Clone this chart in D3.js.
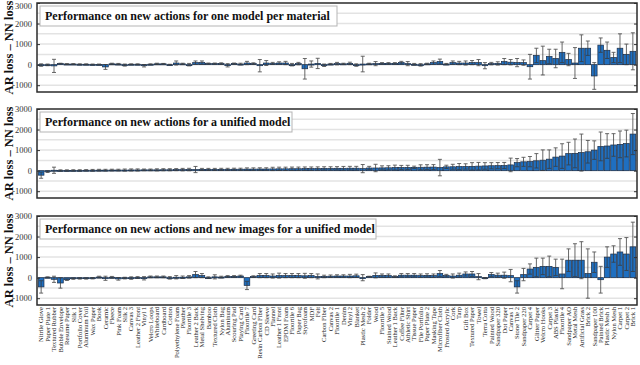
<!DOCTYPE html>
<html>
<head>
<meta charset="utf-8">
<script src="https://cdn.jsdelivr.net/npm/d3@7"></script>
<style>
  body { margin: 0; background: #fff; }
  svg { display: block; }
</style>
</head>
<body>
<div id="chart"></div>
<script>
//Material names, in the order used on the x axis
var categories = ["Nitrile Glove","Paper Plate 1","Textured Rubber","Bubble Envelope","Resume Paper","Silk 1",
  "Portfolio Cover","Aluminum Foil","Wax Paper","Book","Ceramic","Fleece","Pink Foam","Silk 2","Canvas 3",
  "Leather 2 Front","Vinyl 1","Velcro Loops","Whiteboard","Cardboard","Cotton","Polyethylene Foam","Pleather",
  "Floortile 3","Leather 2 Back","Metal Shelving","Bamboo","Textured Cloth","Nylon Bag","Aluminum","Scouring Pad",
  "Playing Card","Floortile 7","Greeting Card","Resin Carbon Fiber","CD Sleeve","Flannel","Leather 1 Front",
  "EPDM Foam","Floortile 6","Paper Bag","Styrofoam","MDF","Felt","Carbon Fiber","Canvas 2","Floortile 1","Denim",
  "Vinyl 2","Blanket","Plastic Mesh 2","Folder","Wood","Floortile 5","Stained Wood","Leather 1 Back",
  "Coffee Filter","Athletic Shirt","Tissue Paper","File Portfolio","Paper Plate 2","Masking Tape",
  "Microfiber Cloth","Frosted Acrylic","Cork","Tarp","Gift Box","Textured Paper","Towel","Terra Cotta",
  "Painted Wood","Sandpaper 320","Dot Paper","Canvas 1","Stone Tile 2","Sandpaper 220","Carpet 4",
  "Glitter Paper","Velcro Hooks","Carpet 3","ABS Plastic","Floortile 4","Sandpaper AO","Metal Mesh",
  "Artificial Grass","Brick 2","Sandpaper 100","Painted Brick","Plastic Mesh 1","Nylon Mesh","Carpet 1",
  "Carpet 2","Brick 1"]

//Mean of AR loss - NN loss and its spread, one pair of arrays per panel
var oneModelVal = [-20,-10,-60,50,30,30,20,20,10,10,-110,40,30,-20,20,20,-50,20,40,40,0,80,40,0,100,100,50,50,50,-30,
  50,30,80,50,-50,80,60,80,80,0,50,-200,30,60,-30,30,50,40,60,-20,30,40,50,60,60,60,100,50,20,-10,
  40,100,150,30,100,80,80,100,100,-50,50,60,150,120,100,100,-100,450,200,400,300,600,250,80,800,800,
  -550,950,700,350,800,500,650]
var oneModelErr = [60,40,320,20,20,20,20,20,20,20,120,30,30,50,20,20,60,20,30,20,20,100,30,60,80,80,30,30,40,80,
  30,40,80,40,300,120,50,60,80,60,60,500,150,250,60,30,60,30,60,60,380,30,100,40,40,40,60,100,40,60,
  30,80,120,30,80,80,100,100,150,150,60,80,150,130,200,130,600,350,700,350,450,500,300,750,650,350,
  650,350,400,250,700,500,900]

var unifiedVal = [-220,-50,20,10,10,15,15,20,20,25,25,30,30,30,35,35,40,40,40,45,45,50,50,55,55,60,60,60,65,65,
  70,70,75,75,80,80,85,90,90,95,95,100,100,105,110,110,115,115,120,120,100,130,130,135,140,150,155,160,160,165,
  170,175,150,185,190,200,205,210,220,230,240,245,250,280,390,430,440,480,510,560,660,710,830,840,880,920,
  1000,1180,1200,1250,1280,1320,1780]
var unifiedErr = [150,40,150,30,30,30,30,30,40,40,40,40,40,50,50,50,40,40,50,50,50,50,60,60,150,50,50,50,50,50,
  50,50,60,60,60,60,80,80,80,80,80,80,80,80,80,80,80,90,90,90,200,80,180,100,100,120,100,100,60,120,
  120,120,400,80,120,150,130,180,180,160,150,150,150,330,200,220,250,350,500,450,450,600,550,700,900,550,
  450,700,600,550,650,650,1000]

var newImagesVal = [-450,20,-80,-260,-100,-50,-40,-40,-30,30,-30,20,-60,-20,-20,10,-30,40,40,40,-10,20,20,40,150,100,0,40,30,60,
  60,80,-380,50,100,100,80,100,100,100,100,90,100,60,60,70,80,80,80,90,0,50,110,100,100,50,120,120,120,100,
  110,100,200,100,80,120,180,180,50,-20,150,120,120,100,-450,150,420,500,550,550,500,180,850,850,850,200,
  750,-100,1000,1150,1250,1150,1500]
var newImagesErr = [300,20,150,250,40,30,30,30,30,40,100,40,60,40,60,40,80,40,40,40,60,80,60,60,150,100,40,100,40,40,
  40,40,200,40,100,100,100,120,100,100,100,120,100,120,60,60,60,60,80,80,150,20,120,80,80,40,80,80,80,80,
  80,80,150,60,100,100,100,120,150,30,100,100,150,300,300,300,250,450,400,500,400,720,550,800,900,1200,
  500,650,500,400,650,800,1200]

var panelTitles = ["Performance on new actions for one model per material",
  "Performance on new actions for a unified model",
  "Performance on new actions and new images for a unified model"]
var yTicks = [-1000, 0, 1000, 2000, 3000]
var gridValues = [-1000, -500, 0, 500, 1000, 1500, 2000, 2500]

var width = 640
var height = 365
var panelTops = [3, 109, 216]
var panelHeight = 89
var plotLeft = 37
var plotRight = 637
var titleBoxWidths = [297, 252, 336]
var serif = "'Liberation Serif', 'Times New Roman', serif"

var svg = d3.select("#chart")
  .append("svg")
  .attr("width", width)
  .attr("height", height)
  .attr("font-family", serif)

//One band per material, shared by the three panels
var xScale = d3.scaleBand()
  .domain(categories)
  .range([plotLeft + 1, plotRight - 1])
  .paddingInner(0.12)
  .paddingOuter(0.05)

var panels = [
  {values: oneModelVal, errors: oneModelErr},
  {values: unifiedVal, errors: unifiedErr},
  {values: newImagesVal, errors: newImagesErr}
]

panels.forEach(function(p, k) {
  var top = panelTops[k]
  var yScale = d3.scaleLinear()
    .domain([-1330, 3000])
    .range([top + panelHeight, top])

  var data = categories.map(function(c, i) {
    return {name: c, val: p.values[i], err: p.errors[i]}
  })

  var g = svg.append("g").attr("class", "panel" + k)

  //Grid lines, every 500
  g.selectAll(".grid")
    .data(gridValues)
    .enter()
    .append("line")
    .attr("x1", plotLeft)
    .attr("x2", plotRight)
    .attr("y1", function(d) { return yScale(d) })
    .attr("y2", function(d) { return yScale(d) })
    .attr("stroke", "#e3e3e3")
    .attr("stroke-width", 1.5)

  //Bars from zero to the mean
  g.selectAll(".bar")
    .data(data)
    .enter()
    .append("rect")
    .attr("x", function(d) { return xScale(d.name) })
    .attr("width", xScale.bandwidth())
    .attr("y", function(d) { return yScale(Math.max(0, d.val)) })
    .attr("height", function(d) { return Math.max(1, Math.abs(yScale(d.val) - yScale(0))) })
    .attr("fill", "#1f6fc0")
    .attr("stroke", "#1b2d47")
    .attr("stroke-width", 0.7)

  //Error bars with small caps
  var err = g.selectAll(".err")
    .data(data)
    .enter()
    .append("g")
    .attr("stroke", "#3a3a3a")
    .attr("stroke-width", 0.9)
    .attr("opacity", 0.85)

  err.append("line")
    .attr("x1", function(d) { return xScale(d.name) + xScale.bandwidth() / 2 })
    .attr("x2", function(d) { return xScale(d.name) + xScale.bandwidth() / 2 })
    .attr("y1", function(d) { return yScale(d.val + d.err) })
    .attr("y2", function(d) { return yScale(d.val - d.err) })

  err.append("line")
    .attr("x1", function(d) { return xScale(d.name) + xScale.bandwidth() / 2 - 2 })
    .attr("x2", function(d) { return xScale(d.name) + xScale.bandwidth() / 2 + 2 })
    .attr("y1", function(d) { return yScale(d.val + d.err) })
    .attr("y2", function(d) { return yScale(d.val + d.err) })

  err.append("line")
    .attr("x1", function(d) { return xScale(d.name) + xScale.bandwidth() / 2 - 2 })
    .attr("x2", function(d) { return xScale(d.name) + xScale.bandwidth() / 2 + 2 })
    .attr("y1", function(d) { return yScale(d.val - d.err) })
    .attr("y2", function(d) { return yScale(d.val - d.err) })

  //Left axis with labels, right axis only ticks
  var yAxis = d3.axisLeft(yScale)
    .tickValues(yTicks)
    .tickFormat(function(d) { return String(d) })
    .tickSize(-3)
    .tickPadding(5)

  var ax = g.append("g")
    .attr("transform", "translate(" + plotLeft + ",0)")
    .call(yAxis)
    .attr("font-family", serif)
    .attr("font-size", 8.5)
  ax.select(".domain").remove()
  ax.selectAll("text").attr("fill", "#333")
  ax.selectAll("line").attr("stroke", "#333")
  //keep the top label of the first panel inside the page
  if (k == 0) {
    ax.selectAll("text").filter(function(d) { return d == 3000 }).attr("dy", "0.62em")
  }

  var axR = g.append("g")
    .attr("transform", "translate(" + plotRight + ",0)")
    .call(d3.axisRight(yScale).tickValues(yTicks).tickSize(-3).tickFormat(""))
  axR.select(".domain").remove()
  axR.selectAll("line").attr("stroke", "#333")

  //Frame round the plot
  g.append("rect")
    .attr("x", plotLeft)
    .attr("y", top)
    .attr("width", plotRight - plotLeft)
    .attr("height", panelHeight)
    .attr("fill", "none")
    .attr("stroke", "#2b2b2b")
    .attr("stroke-width", 1.5)

  //Title box
  g.append("rect")
    .attr("x", plotLeft + 3)
    .attr("y", top + 3)
    .attr("width", titleBoxWidths[k])
    .attr("height", 20)
    .attr("fill", "#fff")
    .attr("stroke", "#b5b5b5")
    .attr("stroke-width", 1)

  g.append("text")
    .attr("x", plotLeft + 8)
    .attr("y", top + 17)
    .attr("font-size", 12)
    .attr("font-weight", "bold")
    .attr("fill", "#111")
    .text(panelTitles[k])

  //Y axis title
  svg.append("text")
    .attr("transform", "translate(13," + (top + panelHeight / 2) + ") rotate(-90)")
    .attr("text-anchor", "middle")
    .attr("font-size", 12.5)
    .attr("font-weight", "bold")
    .attr("fill", "#111")
    .text("AR loss \u2013 NN loss")
})

//Material names under the last panel
var bottom = panelTops[2] + panelHeight
svg.selectAll(".xlabel")
  .data(categories)
  .enter()
  .append("text")
  .attr("transform", function(d) {
    return "translate(" + (xScale(d) + xScale.bandwidth() / 2 + 2.3) + "," + (bottom + 2) + ") rotate(-90)"
  })
  .attr("text-anchor", "end")
  .attr("font-size", 6.6)
  .attr("fill", "#222")
  .text(function(d) { return d })
</script>
</body>
</html>
